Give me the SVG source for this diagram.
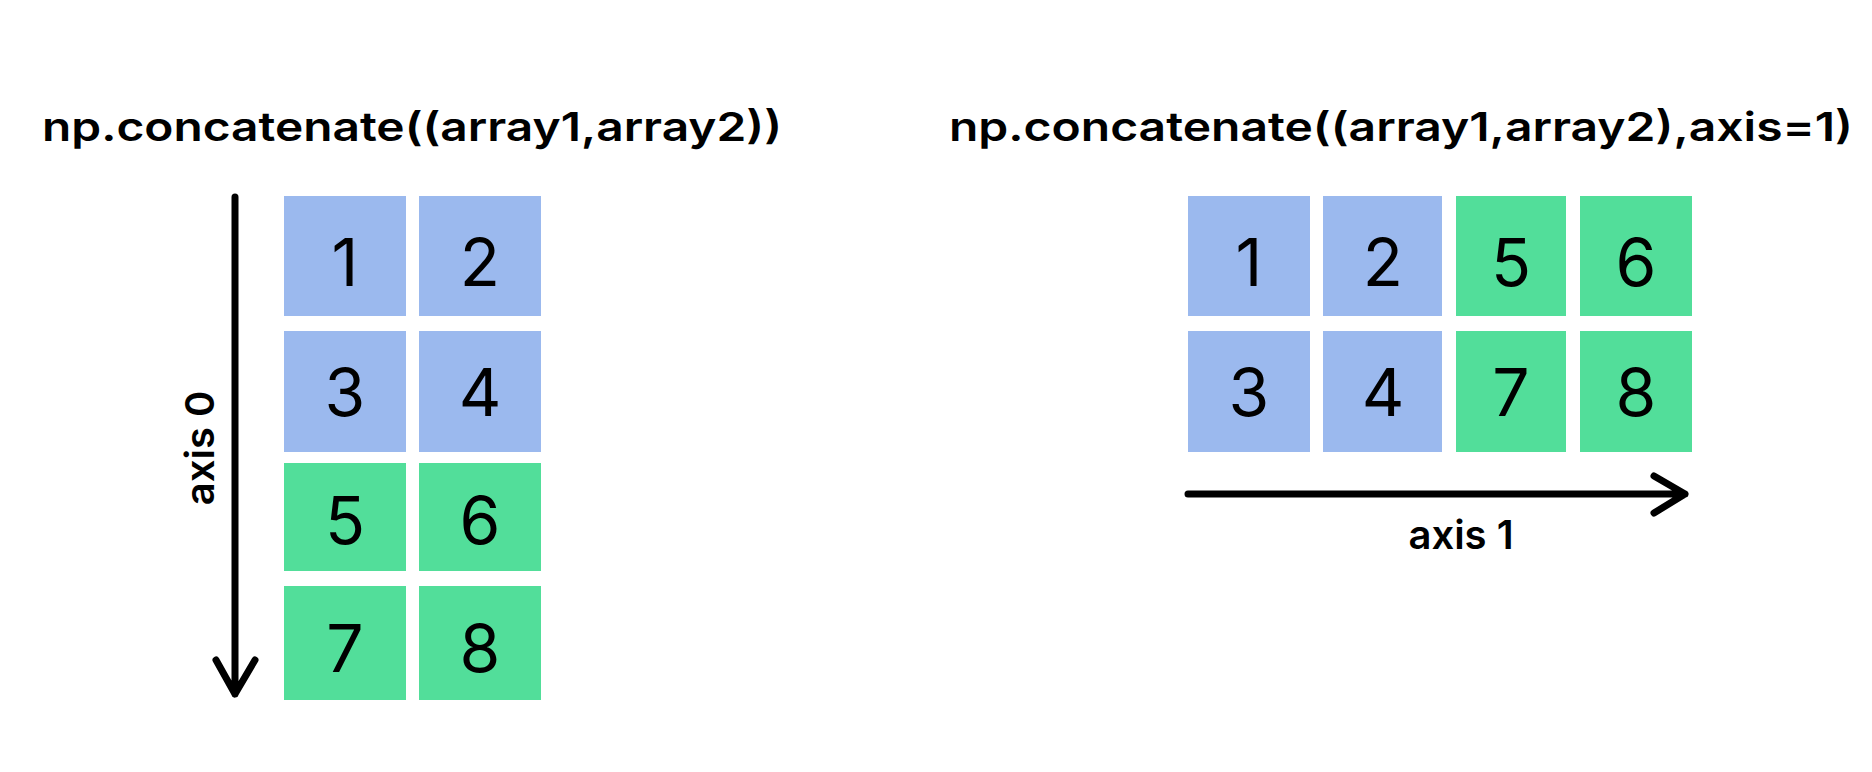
<svg xmlns="http://www.w3.org/2000/svg" width="1872" height="772" viewBox="0 0 1872 772">
<style>
.t{font-family:Inter,"Liberation Sans",sans-serif;font-weight:600;font-size:40px;fill:#000}
.n{font-family:Inter,"Liberation Sans",sans-serif;font-size:66px;fill:#000;text-anchor:middle;dominant-baseline:central}
.b{fill:#9BB9EE}.g{fill:#52DE9A}
.ln{stroke:#000;stroke-width:7;fill:none;stroke-linecap:round;stroke-linejoin:round}
</style>
<rect width="1872" height="772" fill="#fff"/>
<text class="t" x="42" y="141" textLength="740" lengthAdjust="spacingAndGlyphs">np.concatenate((array1,array2))</text>
<text class="t" x="949" y="141" textLength="904" lengthAdjust="spacingAndGlyphs">np.concatenate((array1,array2),axis=1)</text>
<g id="left">
<g id="l1"><rect class="b" x="284" y="196" width="122" height="120"/><text class="n" x="345" y="262">1</text></g>
<g id="l2"><rect class="b" x="419" y="196" width="122" height="120"/><text class="n" x="480" y="262">2</text></g>
<g id="l3"><rect class="b" x="284" y="331" width="122" height="121"/><text class="n" x="345" y="392">3</text></g>
<g id="l4"><rect class="b" x="419" y="331" width="122" height="121"/><text class="n" x="480" y="392">4</text></g>
<g id="l5"><rect class="g" x="284" y="463" width="122" height="108"/><text class="n" x="345" y="520">5</text></g>
<g id="l6"><rect class="g" x="419" y="463" width="122" height="108"/><text class="n" x="480" y="520">6</text></g>
<g id="l7"><rect class="g" x="284" y="586" width="122" height="114"/><text class="n" x="345" y="648">7</text></g>
<g id="l8"><rect class="g" x="419" y="586" width="122" height="114"/><text class="n" x="480" y="648">8</text></g>
</g>
<g id="right">
<g id="r1"><rect class="b" x="1188" y="196" width="122" height="120"/><text class="n" x="1249" y="262">1</text></g>
<g id="r2"><rect class="b" x="1323" y="196" width="119" height="120"/><text class="n" x="1383" y="262">2</text></g>
<g id="r5"><rect class="g" x="1456" y="196" width="110" height="120"/><text class="n" x="1511" y="262">5</text></g>
<g id="r6"><rect class="g" x="1580" y="196" width="112" height="120"/><text class="n" x="1636" y="262">6</text></g>
<g id="r3"><rect class="b" x="1188" y="331" width="122" height="121"/><text class="n" x="1249" y="392">3</text></g>
<g id="r4"><rect class="b" x="1323" y="331" width="119" height="121"/><text class="n" x="1383" y="392">4</text></g>
<g id="r7"><rect class="g" x="1456" y="331" width="110" height="121"/><text class="n" x="1511" y="392">7</text></g>
<g id="r8"><rect class="g" x="1580" y="331" width="112" height="121"/><text class="n" x="1636" y="392">8</text></g>
</g>
<g id="connectors">
<path class="ln" d="M235 197V694M216 660L235 694L255 660"/>
<path class="ln" d="M1188 494H1685M1654 476L1685 494L1654 513"/>
</g>
<text class="t" transform="translate(214,448) rotate(-90)" text-anchor="middle">axis 0</text>
<text class="t" x="1461" y="549" text-anchor="middle">axis 1</text>
</svg>
